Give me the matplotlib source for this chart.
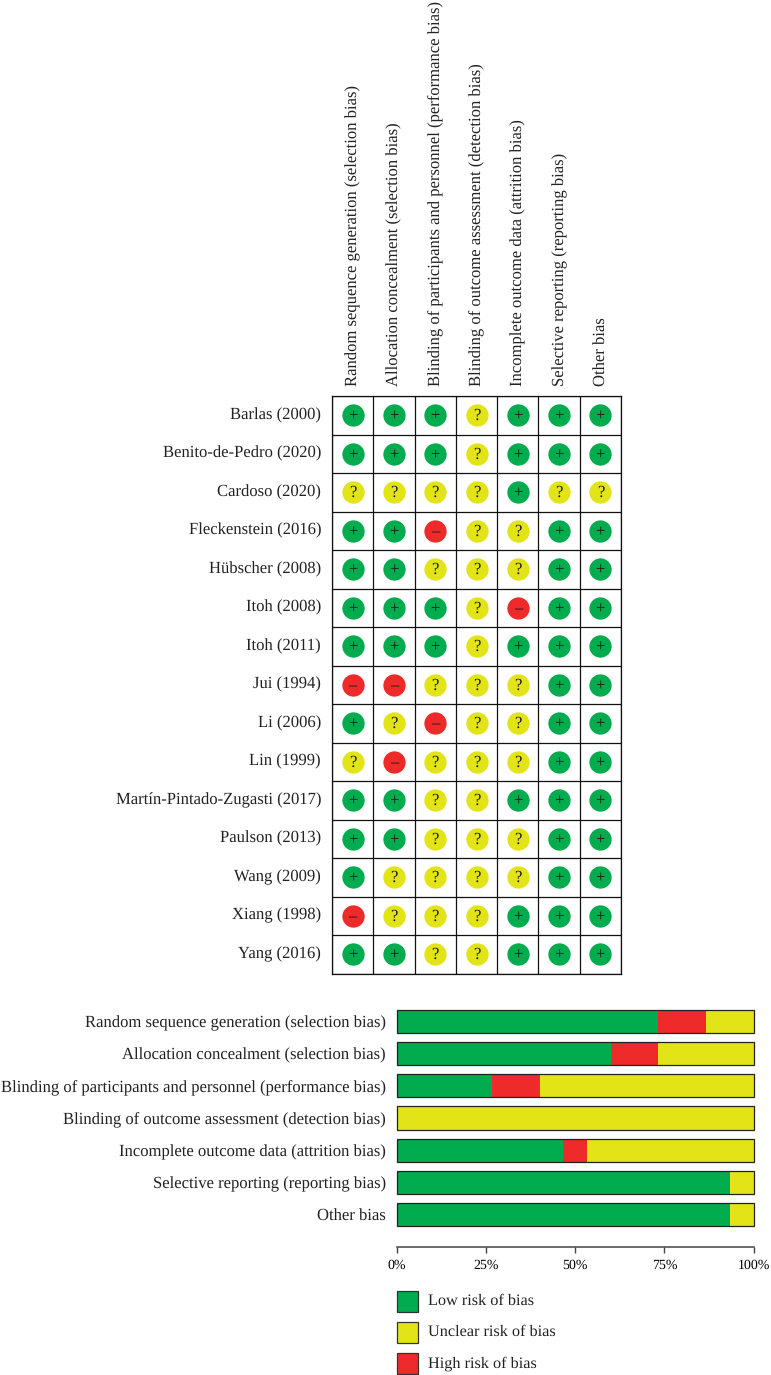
# Imports
import matplotlib
matplotlib.use('Agg')
import matplotlib.pyplot as plt
from matplotlib.patches import Rectangle

plt.rcParams['font.family'] = ['Liberation Serif', 'DejaVu Serif']
plt.rcParams['text.hinting'] = 'no_hinting'
plt.rcParams['text.hinting_factor'] = 8

# Data
domains = ['Random sequence generation (selection bias)',
           'Allocation concealment (selection bias)',
           'Blinding of participants and personnel (performance bias)',
           'Blinding of outcome assessment (detection bias)',
           'Incomplete outcome data (attrition bias)',
           'Selective reporting (reporting bias)',
           'Other bias']
studies = ['Barlas (2000)', 'Benito-de-Pedro (2020)', 'Cardoso (2020)', 'Fleckenstein (2016)',
           'Hübscher (2008)', 'Itoh (2008)', 'Itoh (2011)', 'Jui (1994)', 'Li (2006)', 'Lin (1999)',
           'Martín-Pintado-Zugasti (2017)', 'Paulson (2013)', 'Wang (2009)', 'Xiang (1998)', 'Yang (2016)']
ratings = ['+++?+++', '+++?+++', '????+??', '++-??++', '++???++', '+++?-++', '+++?+++', '--???++',
           '+?-??++', '?-???++', '++??+++', '++???++', '+????++', '-???+++', '++??+++']
lowPct = [73.3, 60, 26.7, 0, 46.7, 93.3, 93.3]
highPct = [13.3, 13.3, 13.3, 0, 6.7, 0, 0]
unclearPct = [13.4, 26.7, 60, 100, 46.6, 6.7, 6.7]
xTicks = [0, 25, 50, 75, 100]
legendLabels = ['Low risk of bias', 'Unclear risk of bias', 'High risk of bias']

green = '#00AC4E'
yellow = '#E2E418'
red = '#EF2A2A'
colors = {'+': green, '?': yellow, '-': red}
symbols = {'+': '+', '?': '?', '-': '–'}

W, H = 771, 1375
fontSize = 11.98


def axPx(fig, x0, y0, x1, y1):
    # pixel box with y from the top
    return fig.add_axes([x0 / W, 1 - y1 / H, (x1 - x0) / W, (y1 - y0) / H])


fig = plt.figure(figsize=(W / 100, H / 100), dpi=100)

# Matrix
ax = axPx(fig, 332, 396, 621, 973.5)
ax.set_xlim(0, len(domains))
ax.set_ylim(len(studies), 0)
ax.set_xticks(range(len(domains) + 1))
ax.set_yticks(range(len(studies) + 1))
ax.grid(True, color='#111111', linewidth=0.9)
ax.set_axisbelow(True)
ax.tick_params(length=0, labelbottom=False, labelleft=False)
for s in ax.spines.values():
    s.set_linewidth(0.9)
    s.set_color('#111111')

for i, row in enumerate(ratings):
    for j, r in enumerate(row):
        ax.scatter(j + 0.5, i + 0.5, s=258, color=colors[r], linewidths=0, zorder=3)
        ax.text(j + 0.5, i + 0.62, symbols[r], ha='center', va='baseline', fontsize=12,
                color='#1a1a1a', zorder=4)
    ax.text(-0.266, i + 0.5, studies[i], ha='right', va='center', fontsize=fontSize, color='#222222')

for j, d in enumerate(domains):
    ax.text(j + 0.52, -0.26, d, rotation=90, ha='center', va='bottom', fontsize=fontSize,
            color='#222222', clip_on=False)

# Summary bars
ax2 = axPx(fig, 397, 1005.5, 753.5, 1230.5)
y = list(range(len(domains)))
left2 = [a + b for a, b in zip(lowPct, highPct)]
ax2.barh(y, lowPct, height=0.72, color=green, linewidth=0)
ax2.barh(y, highPct, left=lowPct, height=0.72, color=red, linewidth=0)
ax2.barh(y, unclearPct, left=left2, height=0.72, color=yellow, linewidth=0)
frames = ax2.barh(y, [100] * len(y), height=0.72, fill=False, edgecolor='#222222', linewidth=0.9)
for p in frames:
    p.set_clip_on(False)
ax2.set_xlim(0, 100)
ax2.set_ylim(len(domains) - 0.5, -0.5)
ax2.set_yticks(y)
ax2.set_yticklabels(domains, fontsize=fontSize, color='#222222')
ax2.tick_params(axis='y', length=0, pad=8)
ax2.set_xticks([])
for s in ax2.spines.values():
    s.set_visible(False)

# Axis below the bars
ax3 = axPx(fig, 397, 1246, 753.5, 1247)
ax3.set_xlim(0, 100)
ax3.set_ylim(0, 1)
ax3.set_yticks([])
ax3.set_xticks(xTicks)
ax3.set_xticklabels([f'{t}%' for t in xTicks], fontsize=12.6, color='#222222')
ax3.tick_params(axis='x', length=4.5, width=1, color='#444444', pad=4)
for k in ['left', 'right', 'bottom']:
    ax3.spines[k].set_visible(False)
ax3.spines['top'].set_color('#444444')
ax3.spines['top'].set_linewidth(1.1)
ax3.spines['top'].set_position(('axes', 0))

# Legend
axLeg = fig.add_axes([0, 0, 1, 1])
axLeg.set_xlim(0, W)
axLeg.set_ylim(H, 0)
axLeg.axis('off')
axLeg.patch.set_alpha(0)
for lab, c, top in zip(legendLabels, [green, yellow, red], [1290.5, 1321.5, 1353]):
    axLeg.add_patch(Rectangle((397, top), 21, 21, facecolor=c, edgecolor='#333333', linewidth=0.9))
    axLeg.text(428, top + 10.5, lab, ha='left', va='center', fontsize=11.7, color='#222222')

fig.savefig('out.png', dpi=100)
